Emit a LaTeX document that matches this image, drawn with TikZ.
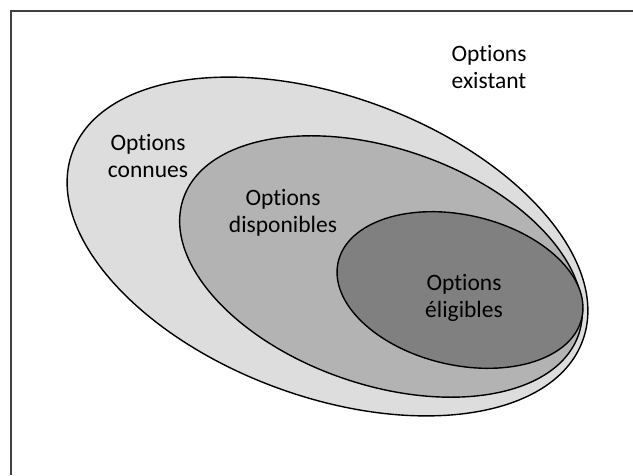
\documentclass[tikz,border=0pt]{standalone}
\usepackage{fontspec}
\setmainfont{Carlito}[Ligatures=NoCommon]
\usetikzlibrary{shapes.geometric}
\definecolor{knownfill}{HTML}{DDDDDD}
\definecolor{availfill}{HTML}{B3B3B3}
\definecolor{eligfill}{HTML}{808080}
\definecolor{framecol}{HTML}{404040}
\tikzset{
  setell/.style={ellipse, draw=black, line width=1.4pt, inner sep=0pt, outer sep=0pt},
  lbl/.style={align=center, font=\fontsize{23.5}{26.5}\selectfont, text=black, inner sep=0pt}
}
\begin{document}
\begin{tikzpicture}[x=1pt,y=1pt]
\useasboundingbox (0,0) rectangle (633,475);
% frame (only left and top edges visible)
\coordinate (fb) at (11,0);
\coordinate (fc) at (11,464);
\coordinate (fr) at (633,464);
\draw[framecol, line width=1.1pt] (fb) -- (fc) -- (fr);
% nested sets
\node[setell, fill=knownfill, minimum width=544pt, minimum height=300pt, rotate=-20.3] (known) at (327.5,228.5) {};
\node[setell, fill=availfill, minimum width=418pt, minimum height=236pt, rotate=-19] (avail) at (381,208.5) {};
\node[setell, fill=eligfill, minimum width=250pt, minimum height=150pt, rotate=-13] (elig) at (460,185) {};
% labels
\node[lbl] (lexist) at (489,408) {Options\\existant};
\node[lbl] (lknown) at (148,319) {Options\\connues};
\node[lbl] (lavail) at (283,262) {Options\\disponibles};
\node[lbl] (lelig) at (464,177) {Options\\éligibles};
\end{tikzpicture}
\end{document}
